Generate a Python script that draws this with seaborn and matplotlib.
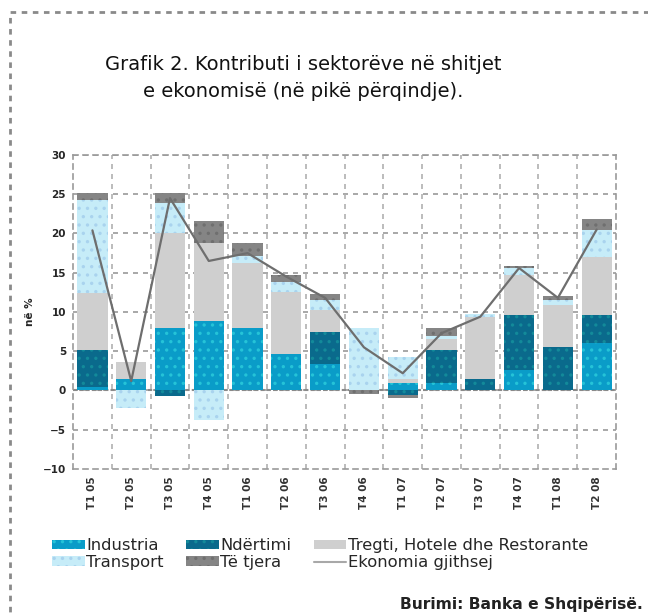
import numpy as np
import pandas as pd
import matplotlib
matplotlib.use("Agg")
import matplotlib.pyplot as plt
import seaborn as sns
from matplotlib.patches import Patch, Rectangle
from matplotlib.lines import Line2D

# periudhat (tremujore)
periudhat = ['T1 05', 'T2 05', 'T3 05', 'T4 05', 'T1 06', 'T2 06', 'T3 06',
             'T4 06', 'T1 07', 'T2 07', 'T3 07', 'T4 07', 'T1 08', 'T2 08']

# kontributi i sektoreve (pike perqindje)
industria = [0.5, 1.5, 7.9, 8.8, 7.9, 4.7, 3.4, 0.0, 1.0, 0.9, 0.0, 2.6, 0.0, 6.0]
ndertimi = [4.6, 0.0, -0.7, 0.0, 0.0, 0.0, 4.0, 0.0, -0.6, 4.2, 1.5, 7.0, 5.5, 3.6]
tregti = [7.3, 2.1, 12.2, 10.0, 8.3, 7.9, 2.8, 0.0, 0.5, 1.5, 7.9, 5.1, 5.4, 7.4]
transport = [11.9, -2.2, 3.8, -3.8, 0.9, 1.2, 1.3, 7.9, 2.8, 0.4, 0.4, 0.9, 0.6, 3.4]
te_tjera = [0.8, 0.0, 1.3, 2.8, 1.7, 0.9, 0.8, -0.4, -0.4, 0.9, 0.0, 0.3, 0.5, 1.4]
gjithsej = [20.4, 1.2, 24.5, 16.5, 17.5, 14.5, 11.8, 5.5, 2.2, 7.3, 9.4, 15.6, 11.8, 20.5]

emrat = ['Industria', 'Ndërtimi', 'Tregti, Hotele dhe Restorante', 'Transport', 'Të tjera']
ngjyrat = ['#0a9cc8', '#0a6a8c', '#cfcfcf', '#c6ecf8', '#858585']
hatch_ngj = ['#25c3d8', '#138a9a', '#cfcfcf', '#a9d3ee', '#6f6f6f']
hatches = ['..', '..', None, '..', '..']

df = pd.DataFrame({'Periudha': periudhat, 'Industria': industria, 'Ndërtimi': ndertimi,
                   'Tregti, Hotele dhe Restorante': tregti, 'Transport': transport,
                   'Të tjera': te_tjera, 'Ekonomia gjithsej': gjithsej})

sns.set_theme(style='white')
plt.rcParams['font.family'] = ['DejaVu Sans']
plt.rcParams['hatch.linewidth'] = 1.2

fig = plt.figure(figsize=(6.48, 6.15), dpi=100)
ax = fig.add_axes([0.1127, 0.2374, 0.838, 0.5106])

x = np.arange(len(df))
poz = np.zeros(len(df))
neg = np.zeros(len(df))
for emri, c, hc, h in zip(emrat, ngjyrat, hatch_ngj, hatches):
    v = df[emri].values
    baza = np.where(v >= 0, poz, neg)
    ax.bar(x, v, bottom=baza, width=0.78, color=c, edgecolor=hc, hatch=h,
           linewidth=0, zorder=3)
    poz = poz + np.clip(v, 0, None)
    neg = neg + np.clip(v, None, 0)

sns.lineplot(x=x, y=df['Ekonomia gjithsej'], color='#6e6e6e', linewidth=1.6,
             ax=ax, zorder=4)

ax.set_xlim(-0.5, len(df) - 0.5)
ax.set_ylim(-10, 30)
ax.set_yticks(np.arange(-10, 31, 5))
for yv in np.arange(-5, 31, 5):
    ax.axhline(yv, color='#9a9a9a', linestyle=(0, (3, 3)), linewidth=1.2, zorder=1)
ax.axhline(0, color='#8a8a8a', linestyle=(0, (2, 1)), linewidth=1.5, zorder=2)
for xv in np.arange(0.5, len(df) - 1, 1):
    ax.axvline(xv, color='#b0b0b0', linestyle=(0, (3, 3)), linewidth=1.2, zorder=1)
for s in ax.spines.values():
    s.set_linestyle((0, (3, 3)))
    s.set_color('#9a9a9a')
    s.set_linewidth(1.2)

ax.set_xticks(x)
ax.set_xticklabels(df['Periudha'], rotation=90, fontsize=7.5, fontweight='bold', color='#333333')
ax.tick_params(axis='y', labelsize=7.5, pad=5, length=0)
ax.tick_params(axis='x', pad=5, length=0)
for t in ax.get_yticklabels():
    t.set_fontweight('bold')
ax.set_xlabel('')
ax.set_ylabel('në %', fontsize=7.5, fontweight='bold', labelpad=6)

fig.text(0.468, 1 - 78 / 615, 'Grafik 2. Kontributi i sektorëve në shitjet\ne ekonomisë (në pikë përqindje).',
         ha='center', va='center', fontsize=14, linespacing=1.55, color='#111111')

handles = [Patch(facecolor=ngjyrat[0], edgecolor=hatch_ngj[0], hatch='..', linewidth=0),
           Patch(facecolor=ngjyrat[3], edgecolor=hatch_ngj[3], hatch='..', linewidth=0),
           Patch(facecolor=ngjyrat[1], edgecolor=hatch_ngj[1], hatch='..', linewidth=0),
           Patch(facecolor=ngjyrat[4], edgecolor=hatch_ngj[4], hatch='..', linewidth=0),
           Patch(facecolor=ngjyrat[2], linewidth=0),
           Line2D([0], [0], color='#a8a8a8', linewidth=1.5)]
labels = ['Industria', 'Transport', 'Ndërtimi', 'Të tjera',
          'Tregti, Hotele dhe Restorante', 'Ekonomia gjithsej']
fig.legend(handles, labels, ncol=3, loc='upper left', bbox_to_anchor=(52 / 648, 1 - 538 / 615),
           frameon=False, fontsize=11.8, handlelength=2.0, handleheight=0.5,
           handletextpad=0.1, columnspacing=1.35, labelspacing=0.12, borderpad=0,
           borderaxespad=0)

fig.text(643 / 648, 1 - 605 / 615, 'Burimi: Banka e Shqipërisë.', ha='right', va='center',
         fontsize=11.2, fontweight='bold', color='#222222')

fig.patches.append(Rectangle((10 / 648, -0.2), 1.2, 0.2 + 1 - 12 / 615, transform=fig.transFigure,
                             fill=False, edgecolor='#8a8a8a', linewidth=2,
                             linestyle=(0, (2, 2))))

fig.savefig('out.png', dpi=100)
